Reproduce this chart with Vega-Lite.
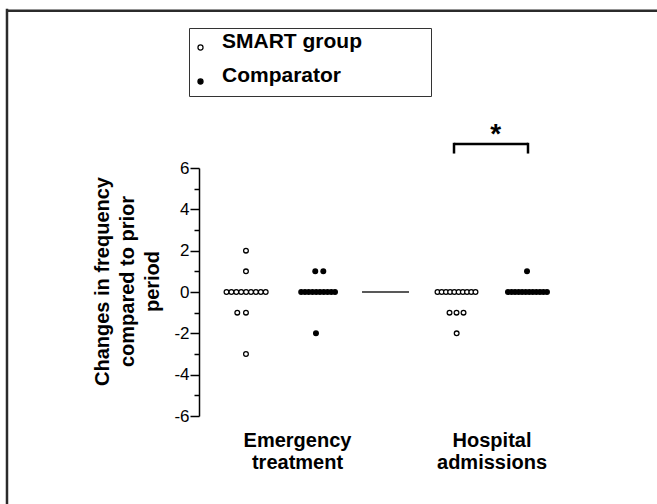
{
  "$schema": "https://vega.github.io/schema/vega-lite/v6.json",
  "width": 420,
  "height": 248,
  "autosize": {"type": "none"},
  "padding": {"left": 199, "top": 168, "right": 38, "bottom": 88},
  "background": "white",
  "config": {"view": {"stroke": null}, "font": "Liberation Sans", "axis": {"grid": false}},
  "resolve": {"axis": {"y": "independent"}},
  "encoding": {
    "x": {
      "field": "x", "type": "quantitative",
      "scale": {"domain": [0.3, 6.3], "nice": false, "zero": false},
      "axis": {
        "values": [1.7, 4.479],
        "labelExpr": "datum.value < 3 ? ['Emergency','treatment'] : ['Hospital','admissions']",
        "domain": false, "ticks": false,
        "labelFontSize": 20, "labelFontWeight": "bold", "labelColor": "black",
        "labelLineHeight": 22, "labelPadding": 14, "labelFlush": false,
        "labelOverlap": false, "labelBound": false, "labelAlign": "center",
        "labelBaseline": "top", "title": null
      }
    },
    "y": {
      "field": "y", "type": "quantitative",
      "scale": {"domain": [-6, 6], "nice": false, "zero": false},
      "axis": null
    }
  },
  "layer": [
    {
      "data": {"values": [
        {"x": -2.443, "x2": 7, "y": 13.61, "y2": 13.61},
        {"x": -2.443, "x2": -2.443, "y": 13.7, "y2": -11}
      ]},
      "mark": {"type": "rule", "stroke": "#2b2b2b", "strokeWidth": 2.5},
      "encoding": {
        "x2": {"field": "x2"},
        "y": {
          "field": "y", "type": "quantitative",
          "scale": {"domain": [-6, 6], "nice": false, "zero": false},
          "axis": {
            "orient": "left", "values": [-5, -3, -1, 1, 3, 5],
            "labels": false, "domain": false, "tickSize": 5, "tickWidth": 1.5,
            "tickColor": "black", "title": null
          }
        },
        "y2": {"field": "y2"}
      }
    },
    {
      "data": {"values": [{"x": 2.629, "x2": 3.3, "y": 0, "y2": 0}]},
      "mark": {"type": "rule", "stroke": "#222222", "strokeWidth": 1.5},
      "encoding": {"x2": {"field": "x2"}, "y2": {"field": "y2"}}
    },
    {
      "data": {"values": [
        {"x": 3.943, "x2": 5.0, "y": 7.161, "y2": 7.161},
        {"x": 3.943, "x2": 3.943, "y": 7.22, "y2": 6.7},
        {"x": 5.0, "x2": 5.0, "y": 7.22, "y2": 6.7}
      ]},
      "mark": {"type": "rule", "stroke": "black", "strokeWidth": 2.5},
      "encoding": {"x2": {"field": "x2"}, "y2": {"field": "y2"}}
    },
    {
      "data": {"values": [{"x": 4.539, "y": 7.21, "label": "*"}]},
      "mark": {"type": "text", "fontSize": 28, "fontWeight": "bold", "align": "center", "baseline": "alphabetic", "color": "black"},
      "encoding": {"text": {"field": "label"}}
    },
    {
      "data": {"values": [
        {"group": "SMART group", "x": 0.971, "y": 2},
        {"group": "SMART group", "x": 0.971, "y": 1},
        {"group": "SMART group", "x": 0.693, "y": 0},
        {"group": "SMART group", "x": 0.763, "y": 0},
        {"group": "SMART group", "x": 0.833, "y": 0},
        {"group": "SMART group", "x": 0.903, "y": 0},
        {"group": "SMART group", "x": 0.973, "y": 0},
        {"group": "SMART group", "x": 1.043, "y": 0},
        {"group": "SMART group", "x": 1.113, "y": 0},
        {"group": "SMART group", "x": 1.183, "y": 0},
        {"group": "SMART group", "x": 1.253, "y": 0},
        {"group": "SMART group", "x": 0.847, "y": -1},
        {"group": "SMART group", "x": 0.971, "y": -1},
        {"group": "SMART group", "x": 0.971, "y": -3},
        {"group": "Comparator", "x": 1.961, "y": 1},
        {"group": "Comparator", "x": 2.076, "y": 1},
        {"group": "Comparator", "x": 1.760, "y": 0},
        {"group": "Comparator", "x": 1.814, "y": 0},
        {"group": "Comparator", "x": 1.867, "y": 0},
        {"group": "Comparator", "x": 1.921, "y": 0},
        {"group": "Comparator", "x": 1.975, "y": 0},
        {"group": "Comparator", "x": 2.028, "y": 0},
        {"group": "Comparator", "x": 2.082, "y": 0},
        {"group": "Comparator", "x": 2.136, "y": 0},
        {"group": "Comparator", "x": 2.190, "y": 0},
        {"group": "Comparator", "x": 2.243, "y": 0},
        {"group": "Comparator", "x": 1.971, "y": -2},
        {"group": "SMART group", "x": 3.707, "y": 0},
        {"group": "SMART group", "x": 3.767, "y": 0},
        {"group": "SMART group", "x": 3.828, "y": 0},
        {"group": "SMART group", "x": 3.888, "y": 0},
        {"group": "SMART group", "x": 3.948, "y": 0},
        {"group": "SMART group", "x": 4.009, "y": 0},
        {"group": "SMART group", "x": 4.069, "y": 0},
        {"group": "SMART group", "x": 4.129, "y": 0},
        {"group": "SMART group", "x": 4.190, "y": 0},
        {"group": "SMART group", "x": 4.250, "y": 0},
        {"group": "SMART group", "x": 3.879, "y": -1},
        {"group": "SMART group", "x": 3.979, "y": -1},
        {"group": "SMART group", "x": 4.079, "y": -1},
        {"group": "SMART group", "x": 3.981, "y": -2},
        {"group": "Comparator", "x": 4.986, "y": 1},
        {"group": "Comparator", "x": 4.714, "y": 0},
        {"group": "Comparator", "x": 4.765, "y": 0},
        {"group": "Comparator", "x": 4.815, "y": 0},
        {"group": "Comparator", "x": 4.866, "y": 0},
        {"group": "Comparator", "x": 4.916, "y": 0},
        {"group": "Comparator", "x": 4.967, "y": 0},
        {"group": "Comparator", "x": 5.018, "y": 0},
        {"group": "Comparator", "x": 5.068, "y": 0},
        {"group": "Comparator", "x": 5.119, "y": 0},
        {"group": "Comparator", "x": 5.170, "y": 0},
        {"group": "Comparator", "x": 5.220, "y": 0},
        {"group": "Comparator", "x": 5.271, "y": 0}
      ]},
      "mark": {"type": "point", "shape": "circle", "filled": true, "stroke": "black", "strokeWidth": 1.3, "size": 22, "opacity": 1},
      "encoding": {
        "y": {
          "field": "y", "type": "quantitative",
          "scale": {"domain": [-6, 6], "nice": false, "zero": false},
          "axis": {
            "orient": "left",
            "values": [-6, -4, -2, 0, 2, 4, 6],
            "labelExpr": "'' + datum.value",
            "tickSize": 9, "tickWidth": 1.5, "tickColor": "black",
            "labelFontSize": 17, "labelPadding": 1, "labelColor": "black",
            "domainColor": "black", "domainWidth": 1.5,
            "labelOverlap": false,
            "title": ["Changes in frequency", "compared to prior", "period"],
            "titleFontSize": 20, "titleFontWeight": "bold", "titleColor": "black",
            "titleLineHeight": 25, "titleX": -87, "titleY": 113, "titleAngle": 270,
            "titleBaseline": "bottom", "titleAlign": "center"
          }
        },
        "fill": {
          "field": "group", "type": "nominal",
          "scale": {"domain": ["SMART group", "Comparator"], "range": ["white", "black"]},
          "legend": {
            "orient": "none", "legendX": -10, "legendY": -140, "title": null,
            "strokeColor": "#333333", "padding": 9, "rowPadding": 11,
            "labelFontSize": 21, "labelFontWeight": "bold", "labelColor": "black",
            "labelBaseline": "alphabetic", "labelOffset": 11, "labelLimit": 400,
            "symbolOffset": -8,
            "symbolSize": 26, "symbolType": "circle", "symbolStrokeColor": "black", "symbolStrokeWidth": 1.2,
            "labelExpr": "datum.label + '\u2800\u2800\u2800\u2800'"
          }
        }
      }
    }
  ]
}
